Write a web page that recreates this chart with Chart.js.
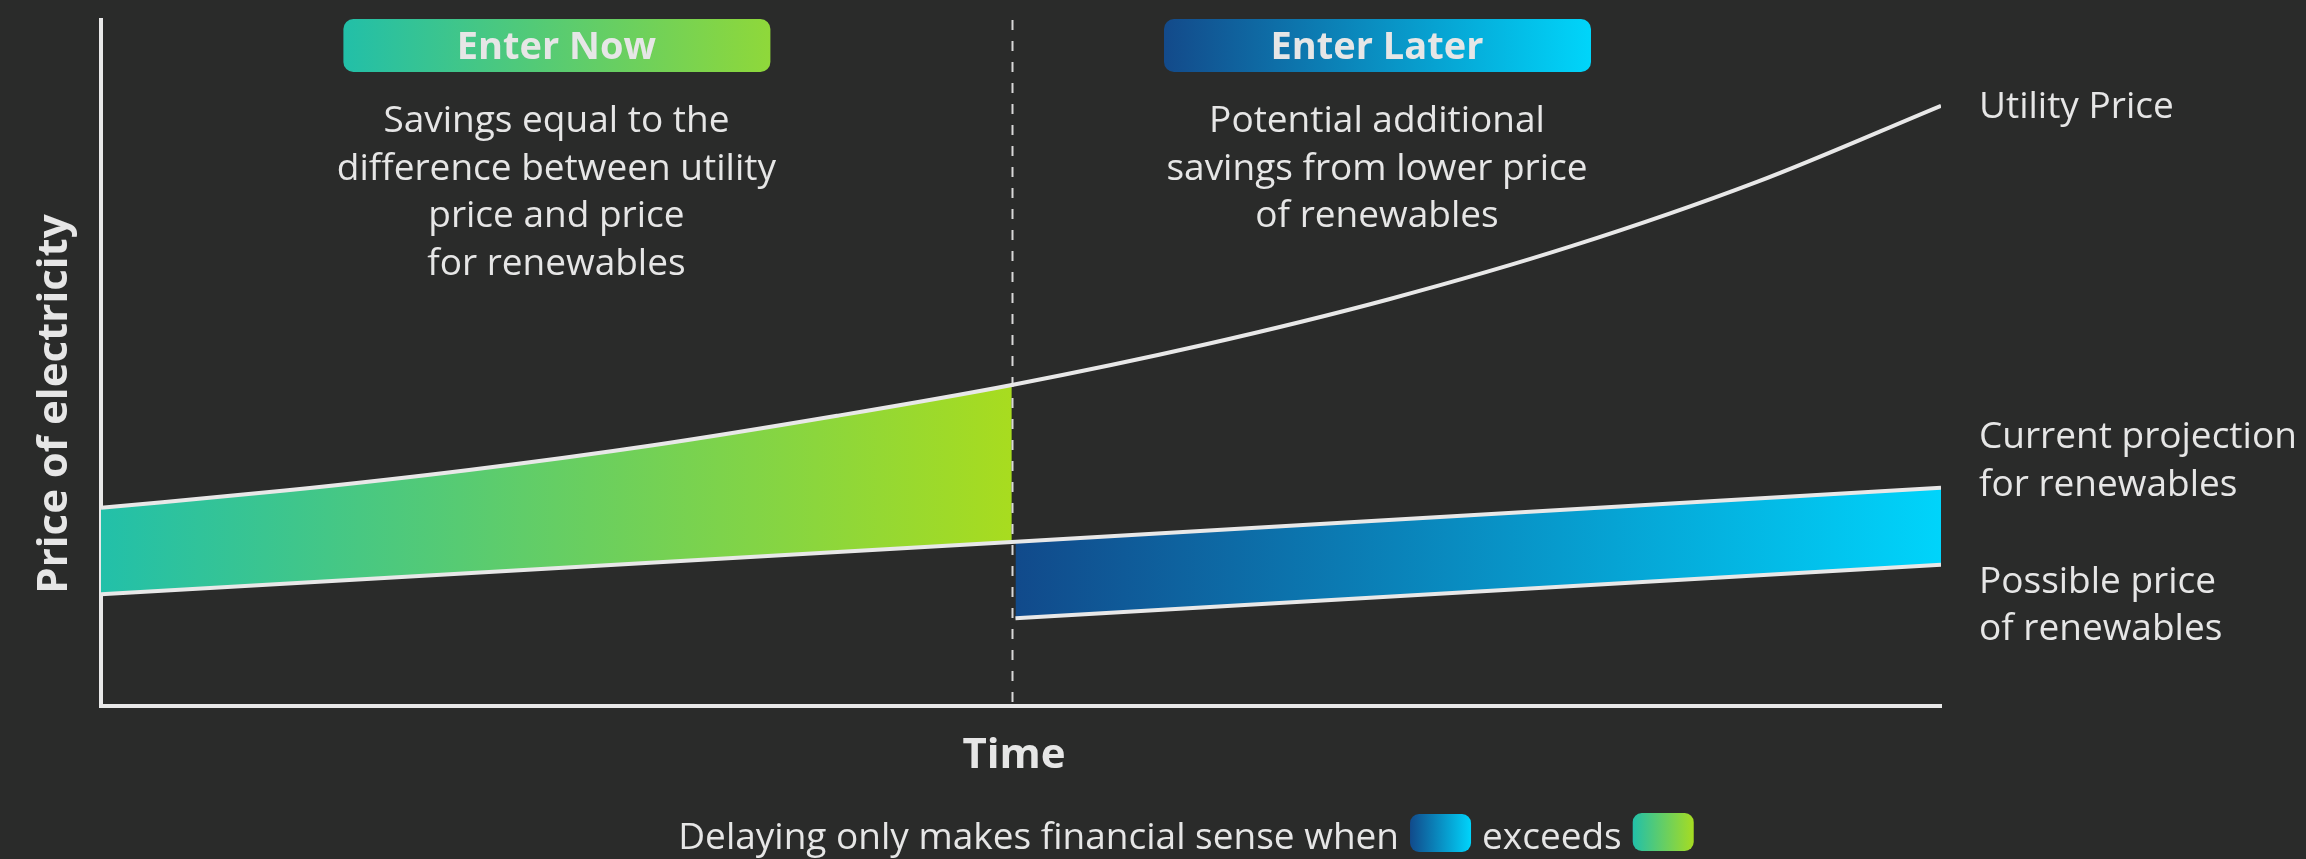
<!DOCTYPE html>
<html>
<head>
<meta charset="utf-8">
<script src="https://cdn.jsdelivr.net/npm/chart.js@4.4.0/dist/chart.umd.min.js"></script>
<style>
  html, body { margin: 0; padding: 0; background: #2a2b2a; }
  canvas { display: block; }
</style>
</head>
<body>
<canvas id="priceChart" width="2306" height="859"></canvas>
<script>
// time runs 0..100, prices on a 0..100 relative scale
const splitTime = 49.5;
const utilityTime = [0, 10, 20, 30, 40, 49.5, 60, 70, 80, 90, 100];
const utilityPrice = [28.9, 31.4, 34.4, 38.0, 42.3, 46.8, 52.7, 59.3, 67.1, 76.4, 87.5];
const currentTime = [0, 49.5, 100];
const currentProjection = [16.3, 23.9, 31.8];
const possibleTime = [49.7, 100];
const possiblePrice = [12.8, 20.6];

const lineColor = '#e8e8e8';
const textColor = '#e6e6e6';
const greenStops = ['#22c0a9', '#a8dc1f'];
const blueStops = ['#114a8b', '#00d4fb'];
const font = "'Open Sans', sans-serif";

const toPoints = (xs, ys) => xs.map((x, i) => ({ x: x, y: ys[i] }));

function bandGradient(stops, from, to) {
  return function(context) {
    const { ctx, chartArea, scales } = context.chart;
    if (!chartArea) return null;
    const g = ctx.createLinearGradient(scales.x.getPixelForValue(from), 0, scales.x.getPixelForValue(to), 0);
    g.addColorStop(0, stops[0]);
    g.addColorStop(1, stops[1]);
    return g;
  };
}

function roundRect(ctx, x, y, w, h, r) {
  ctx.beginPath();
  ctx.moveTo(x + r, y);
  ctx.arcTo(x + w, y, x + w, y + h, r);
  ctx.arcTo(x + w, y + h, x, y + h, r);
  ctx.arcTo(x, y + h, x, y, r);
  ctx.arcTo(x, y, x + w, y, r);
  ctx.closePath();
}

function gradientBox(ctx, x, y, w, h, r, stops) {
  const g = ctx.createLinearGradient(x, 0, x + w, 0);
  g.addColorStop(0, stops[0]);
  g.addColorStop(1, stops[1]);
  ctx.fillStyle = g;
  roundRect(ctx, x, y, w, h, r);
  ctx.fill();
}

const decorations = {
  id: 'decorations',
  beforeDraw(chart) {
    const ctx = chart.ctx;
    ctx.save();
    ctx.fillStyle = '#2a2b2a';
    ctx.fillRect(0, 0, chart.width, chart.height);
    ctx.restore();
  },
  beforeDatasetsDraw(chart) {
    const { ctx, chartArea, scales } = chart;
    const x = Math.round(scales.x.getPixelForValue(splitTime)) + 0.5;
    ctx.save();
    ctx.strokeStyle = '#d8d8d8';
    ctx.lineWidth = 2;
    ctx.setLineDash([10, 11]);
    ctx.beginPath();
    ctx.moveTo(x, chartArea.top);
    ctx.lineTo(x, chartArea.bottom);
    ctx.stroke();
    ctx.restore();
  },
  afterDraw(chart) {
    const { ctx, chartArea, scales } = chart;
    const xs = scales.x, ys = scales.y;
    ctx.save();

    // badges
    const leftMid = (xs.getPixelForValue(0) + xs.getPixelForValue(splitTime)) / 2;
    const rightMid = 1377;
    gradientBox(ctx, leftMid - 213, 19, 427, 53, 10, ['#22bfa8', '#8fd83a']);
    gradientBox(ctx, rightMid - 213, 19, 427, 53, 10, ['#134a8a', '#00d5fa']);
    ctx.fillStyle = textColor;
    ctx.textAlign = 'center';
    ctx.textBaseline = 'alphabetic';
    ctx.font = 'bold 38px ' + font;
    ctx.fillText('Enter Now', leftMid, 59);
    ctx.fillText('Enter Later', rightMid, 59);

    // explanations
    ctx.font = '37px ' + font;
    ['Savings equal to the', 'difference between utility', 'price and price', 'for renewables']
      .forEach((t, i) => ctx.fillText(t, leftMid, 132 + i * 47.5));
    ['Potential additional', 'savings from lower price', 'of renewables']
      .forEach((t, i) => ctx.fillText(t, rightMid, 132 + i * 47.5));

    // series labels at the right
    ctx.textAlign = 'left';
    const lx = chartArea.right + 38;
    const uY = ys.getPixelForValue(utilityPrice[utilityPrice.length - 1]);
    const cY = ys.getPixelForValue(currentProjection[currentProjection.length - 1]);
    const pY = ys.getPixelForValue(possiblePrice[possiblePrice.length - 1]);
    ctx.fillText('Utility Price', lx, uY + 12);
    ctx.fillText('Current projection', lx, cY - 40);
    ctx.fillText('for renewables', lx, cY + 8);
    ctx.fillText('Possible price', lx, pY + 28);
    ctx.fillText('of renewables', lx, pY + 75);

    // axis titles
    ctx.font = 'bold 42px ' + font;
    ctx.textAlign = 'center';
    ctx.fillText('Time', 1014, 768);
    ctx.save();
    ctx.translate(67, 404);
    ctx.rotate(-Math.PI / 2);
    ctx.fillText('Price of electricity', 0, 0);
    ctx.restore();

    // footnote with colour swatches
    ctx.font = '37px ' + font;
    ctx.textAlign = 'left';
    const part1 = 'Delaying only makes financial sense when';
    const part2 = 'exceeds';
    const w1 = ctx.measureText(part1).width;
    const w2 = ctx.measureText(part2).width;
    const sw = 61, gap = 11;
    const total = w1 + gap + sw + gap + w2 + gap + sw;
    let x = 1186 - total / 2;
    const base = 849;
    ctx.fillText(part1, x, base);
    x += w1 + gap;
    gradientBox(ctx, x, 814, sw, 38, 9, blueStops);
    x += sw + gap;
    ctx.fillStyle = textColor;
    ctx.fillText(part2, x, base);
    x += w2 + gap;
    gradientBox(ctx, x, 813, sw, 38, 9, ['#22c0a9', '#a6dc22']);

    ctx.restore();
  }
};

new Chart(document.getElementById('priceChart'), {
  type: 'line',
  data: {
    datasets: [
      {
        label: 'Utility Price',
        data: toPoints(utilityTime, utilityPrice),
        borderColor: lineColor,
        borderWidth: 4,
        cubicInterpolationMode: 'monotone',
        fill: false
      },
      {
        label: 'Current projection for renewables',
        data: toPoints(currentTime, currentProjection),
        borderColor: lineColor,
        borderWidth: 4,
        fill: false
      },
      {
        label: 'Possible price of renewables',
        data: toPoints(possibleTime, possiblePrice),
        borderColor: lineColor,
        borderWidth: 4,
        fill: { target: 1 },
        backgroundColor: bandGradient(blueStops, possibleTime[0], 100)
      },
      {
        label: 'Enter now savings',
        data: toPoints(utilityTime, utilityPrice).filter(p => p.x <= splitTime),
        borderColor: 'transparent',
        borderWidth: 0,
        cubicInterpolationMode: 'monotone',
        fill: { target: 1 },
        backgroundColor: bandGradient(greenStops, 0, splitTime)
      }
    ]
  },
  options: {
    responsive: false,
    animation: false,
    devicePixelRatio: 1,
    layout: { autoPadding: false, padding: { left: 101, top: 20, right: 365, bottom: 153 } },
    elements: { point: { radius: 0, hoverRadius: 0 } },
    scales: {
      x: {
        type: 'linear', min: 0, max: 100, z: 1,
        grid: { display: false, drawTicks: false },
        ticks: { display: false },
        border: { display: true, color: lineColor, width: 4 }
      },
      y: {
        min: 0, max: 100, z: 1,
        grid: { display: false, drawTicks: false },
        ticks: { display: false },
        border: { display: true, color: lineColor, width: 4 }
      }
    },
    plugins: {
      legend: { display: false },
      tooltip: { enabled: false },
      filler: { drawTime: 'beforeDatasetsDraw' }
    }
  },
  plugins: [decorations]
});
</script>
</body>
</html>
